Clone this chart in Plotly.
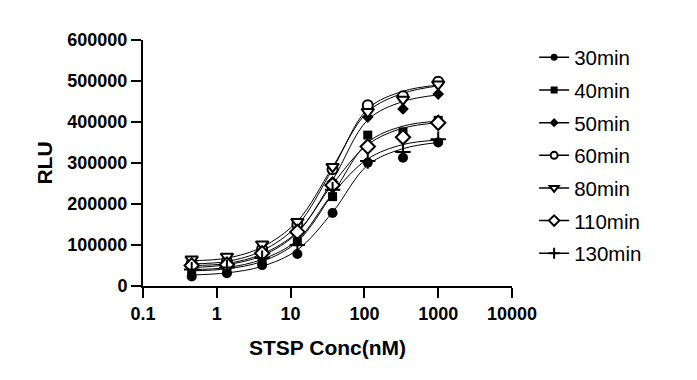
import plotly.graph_objects as go

conc = [0.457, 1.372, 4.115, 12.35, 37.04, 111.1, 333.3, 1000]
series_names = ["30min", "40min", "50min", "60min", "80min", "110min", "130min"]

rlu_30 = [23000, 31000, 51000, 78000, 178000, 301000, 313000, 350000]
rlu_40 = [35000, 40000, 62000, 108000, 218000, 368000, 376000, 404000]
rlu_50 = [45000, 55000, 75000, 130000, 254000, 412000, 432000, 468000]
rlu_60 = [55000, 60000, 90000, 150000, 285000, 441000, 463000, 498000]
rlu_80 = [65000, 72000, 102000, 157000, 291000, 425000, 455000, 492000]
rlu_110 = [50000, 52000, 80000, 132000, 246000, 340000, 363000, 398000]
rlu_130 = [40000, 45000, 68000, 100000, 235000, 305000, 327000, 358000]

# fitted curve heights at each concentration
fit_30 = [27000, 32000, 48000, 88000, 180000, 295000, 335000, 350000]
fit_40 = [37000, 42000, 60000, 108000, 225000, 350000, 390000, 402000]
fit_50 = [45000, 52000, 74000, 130000, 258000, 405000, 450000, 466000]
fit_60 = [54000, 60000, 86000, 148000, 285000, 432000, 475000, 490000]
fit_80 = [62000, 68000, 95000, 158000, 290000, 425000, 470000, 488000]
fit_110 = [50000, 55000, 78000, 132000, 248000, 345000, 385000, 398000]
fit_130 = [40000, 45000, 65000, 112000, 225000, 310000, 345000, 356000]

x_tick_vals = [0.1, 1, 10, 100, 1000, 10000]
x_tick_text = ["0.1", "1", "10", "100", "1000", "10000"]
y_tick_vals = [0, 100000, 200000, 300000, 400000, 500000, 600000]

data = [rlu_30, rlu_40, rlu_50, rlu_60, rlu_80, rlu_110, rlu_130]
fits = [fit_30, fit_40, fit_50, fit_60, fit_80, fit_110, fit_130]

markers = [
    dict(symbol="circle", size=10, color="black", line=dict(width=0)),
    dict(symbol="square", size=9, color="black", line=dict(width=0)),
    dict(symbol="diamond", size=9, color="black", line=dict(width=0)),
    dict(symbol="circle", size=10, color="white", line=dict(width=2, color="black")),
    dict(symbol="triangle-down", size=11, color="white", line=dict(width=2, color="black")),
    dict(symbol="diamond", size=11, color="white", line=dict(width=2, color="black")),
    dict(symbol="cross-thin", size=11, color="black", line=dict(width=2, color="black")),
]

fig = go.Figure()
for name, ys, fy, mk in zip(series_names, data, fits, markers):
    fig.add_trace(go.Scatter(x=conc, y=fy, mode="lines", line=dict(color="black", width=1, shape="spline", smoothing=1.0),
                             showlegend=False, hoverinfo="skip"))
for name, ys, fy, mk in zip(series_names, data, fits, markers):
    fig.add_trace(go.Scatter(x=conc, y=ys, mode="markers", marker=mk, showlegend=False, name=name))
for i, (name, mk) in enumerate(zip(series_names, markers)):
    lm = dict(mk)
    lm["size"] = max(mk["size"] - 3, 7)
    fig.add_trace(go.Scatter(x=[None], y=[None], mode="lines+markers", name=name, marker=lm,
                             line=dict(color="black", width=1.5), legendgroup=name))

font_family = "Arial, Liberation Sans, sans-serif"
fig.update_layout(
    width=697, height=380,
    margin=dict(l=135, r=193, t=32, b=102, autoexpand=False),
    paper_bgcolor="white", plot_bgcolor="white",
    font=dict(family=font_family, color="black"),
    legend=dict(x=1.06, y=1.01, xanchor="left", yanchor="top", font=dict(size=20.5, family=font_family),
                tracegroupgap=3, bgcolor="rgba(0,0,0,0)", maxheight=1),
    xaxis=dict(type="log", range=[-1, 4], tickvals=x_tick_vals, ticktext=x_tick_text, automargin=False,
               showline=True, linewidth=2, linecolor="black", ticks="outside", ticklen=10, tickwidth=2,
               tickcolor="black", showgrid=False, zeroline=False,
               tickfont=dict(size=18, family=font_family, weight="bold"),
               title=dict(text="<b>STSP Conc(nM)</b>", font=dict(size=21, family=font_family), standoff=18)),
    yaxis=dict(range=[0, 600000], tickvals=y_tick_vals, tickformat="d", automargin=False,
               showline=True, linewidth=2, linecolor="black", ticks="outside", ticklen=10, tickwidth=2,
               tickcolor="black", showgrid=False, zeroline=False,
               tickfont=dict(size=18, family=font_family, weight="bold"),
               title=dict(text="<b>RLU</b>", font=dict(size=21, family=font_family), standoff=9)),
)
fig.write_html("out.html")
